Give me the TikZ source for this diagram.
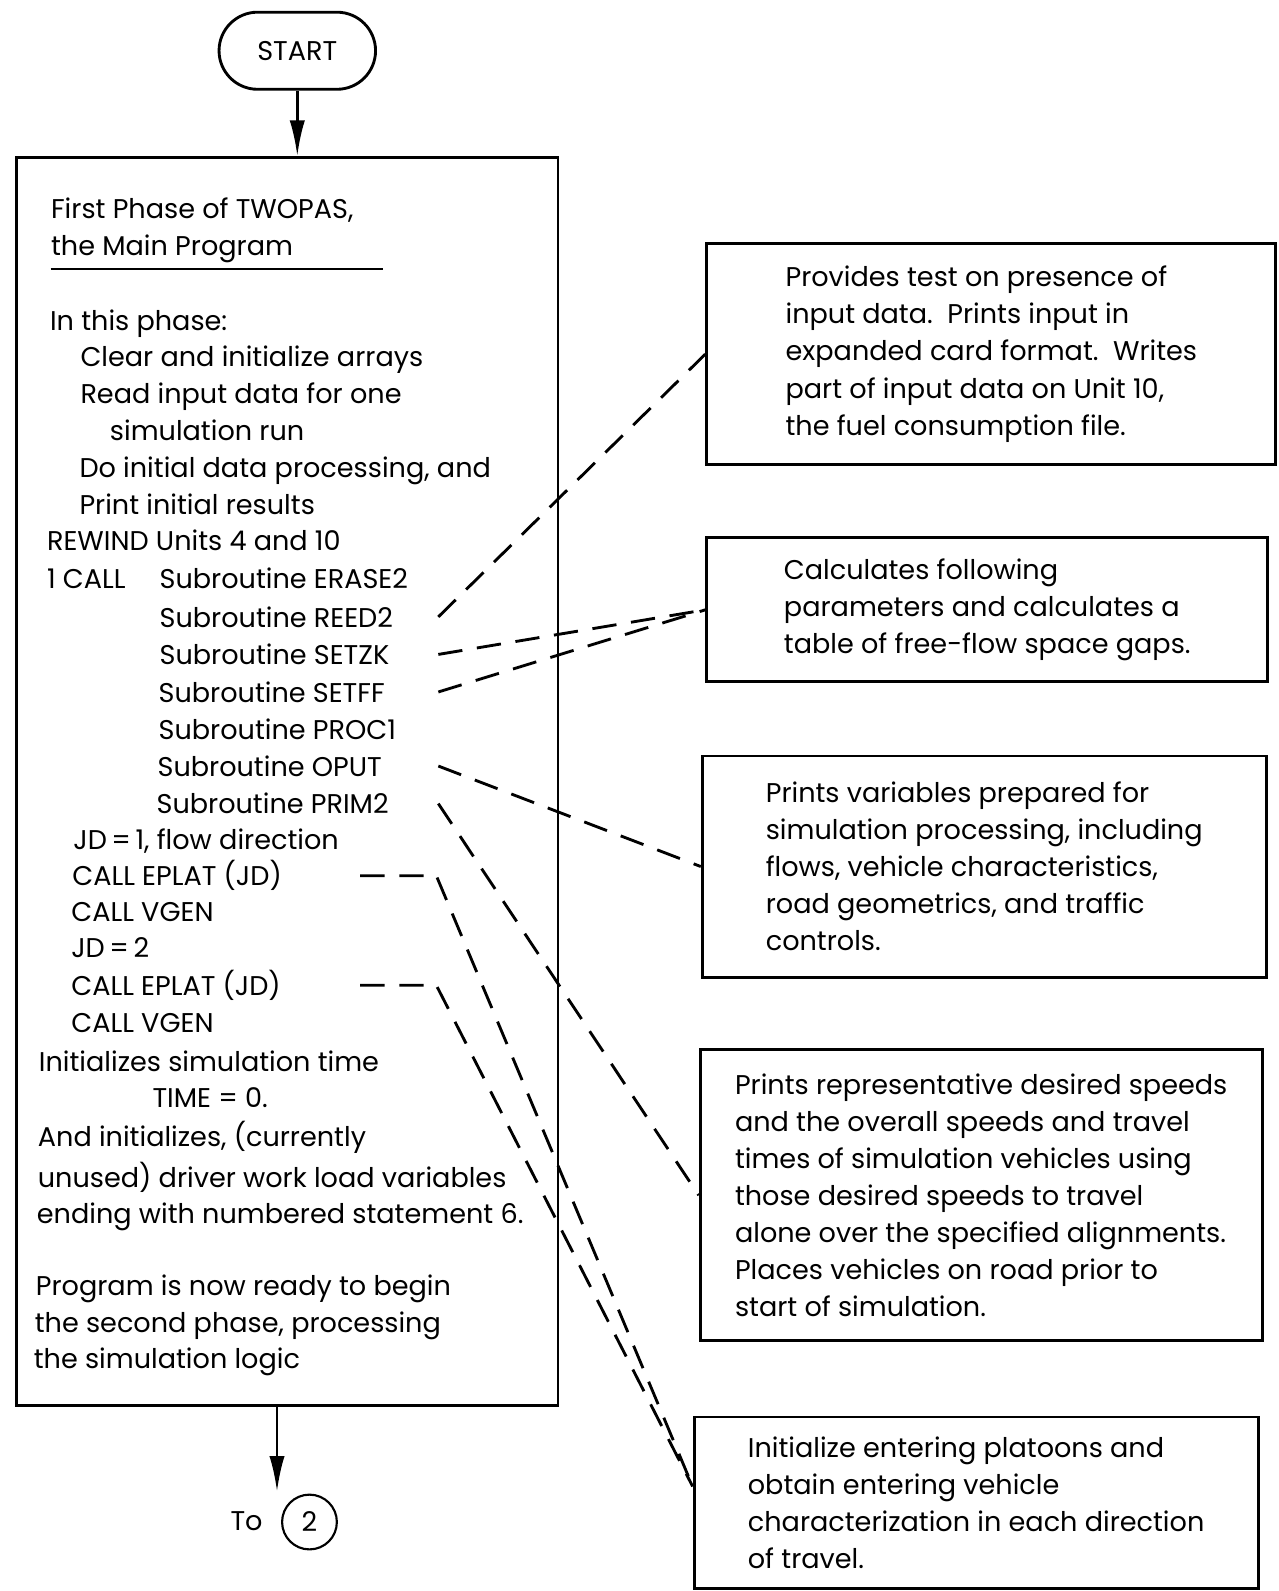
\documentclass[tikz,border=0pt]{standalone}
\usepackage{fontspec}
\setmainfont{Poppins}
\usetikzlibrary{shapes.misc, arrows.meta, positioning}

\newcommand{\fs}{\fontsize{15.2pt}{20.8pt}\selectfont}

\begin{document}
\begin{tikzpicture}[
    x=0.02cm, y=-0.02cm,
    terminal/.style={rounded rectangle, draw, line width=1.6pt, minimum width=3.32cm, minimum height=1.52cm, font=\fs},
    block/.style={rectangle, draw, line width=1.6pt},
    note/.style={rectangle, draw, line width=1.6pt, align=left, font=\fs},
    txt/.style={anchor=base west, inner sep=0pt, font=\fs},
    flow/.style={-{Latex[length=0.7cm, width=0.3cm]}, line width=1.6pt},
    link/.style={line width=1.6pt, dash pattern=on 0.48cm off 0.29cm}
]
\useasboundingbox (0,0) rectangle (1260,1568);

% Start
\node[terminal] (start) at (293,50) {START};

% Main program box
\node[block, minimum width=10.68cm, minimum height=24.6cm] (main) at (283,770) {};
\draw[flow] (start.south) -- (start.south |- main.north);

% Title of the phase
\node[txt] (title1) at (50,215) {First Phase of TWOPAS,};
\node[txt] (title2) at (50,252) {the Main Program};
\draw[line width=1.1pt] (50,265) -- (377,265);

% What the phase does
\node[txt] (phase) at (49,326) {In this phase:};
\node[txt] (clear) at (79,361) {Clear and initialize arrays};
\node[txt] (read1) at (79,398) {Read input data for one};
\node[txt] (read2) at (108,434) {simulation run};
\node[txt] (proc) at (78,471) {Do initial data processing, and};
\node[txt] (print) at (78,507) {Print initial results};
\node[txt] (rewind) at (46,543) {REWIND Units 4 and 10};

% Subroutine calls
\node[txt] (call1) at (46,580) {1 CALL};
\node[txt] (erase2) at (157,580) {Subroutine ERASE2};
\node[txt] (reed2) at (157,618) {Subroutine REED2};
\node[txt] (setzk) at (157,655) {Subroutine SETZK};
\node[txt] (setff) at (156,692) {Subroutine SETFF};
\node[txt] (proc1) at (156,729) {Subroutine PROC1};
\node[txt] (oput) at (155,765) {Subroutine OPUT};
\node[txt] (prim2) at (154,802) {Subroutine PRIM2};

% Both directions
\node[txt] (jd1) at (72,837) {JD\,=\,1, flow direction};
\node[txt] (eplat1) at (71,873) {CALL EPLAT (JD)};
\node[txt] (vgen1) at (70,908) {CALL VGEN};
\node[txt] (jd2) at (70,944) {JD\,=\,2};
\node[txt] (eplat2) at (70,981) {CALL EPLAT (JD)};
\node[txt] (vgen2) at (70,1018) {CALL VGEN};

% Time and work load
\node[txt] (init1) at (38,1056) {Initializes simulation time};
\node[txt] (time) at (150,1091) {TIME = 0.};
\node[txt] (init2) at (37,1130) {And initializes, (currently};
\node[txt] (init3) at (37,1170) {unused) driver work load variables};
\node[txt] (init4) at (36,1206) {ending with numbered statement 6.};

% Ready for second phase
\node[txt] (ready1) at (35,1277) {Program is now ready to begin};
\node[txt] (ready2) at (34,1313) {the second phase, processing};
\node[txt] (ready3) at (33,1349) {the simulation logic};

% Off-page connector
\coordinate (toend) at (273,1470);
\draw[flow] (main.south -| toend) -- (toend);
\node[font=\fs] (tolbl) at (243,1499) {To};
\node[circle, draw, line width=1.2pt, minimum size=1.08cm, font=\fs] (conn2) at (305,1500) {2};

% Comment boxes
\node[note, minimum width=11.22cm, minimum height=4.36cm] (boxA) at (977,349) {Provides test on presence of\\input data.\ \ Prints input in\\expanded card format.\ \ Writes\\part of input data on Unit 10,\\the fuel consumption file.};
\node[note, minimum width=11.06cm, minimum height=2.84cm] (boxB) at (973,601) {Calculates following\\parameters and calculates a\\table of free-flow space gaps.};
\node[note, minimum width=11.12cm, minimum height=4.36cm] (boxC) at (970,854) {Prints variables prepared for\\simulation processing, including\\flows, vehicle characteristics,\\road geometrics, and traffic\\controls.};
\node[note, minimum width=11.08cm, minimum height=5.74cm] (boxD) at (967,1178) {Prints representative desired speeds\\and the overall speeds and travel\\times of simulation vehicles using\\those desired speeds to travel\\alone over the specified alignments.\\Places vehicles on road prior to\\start of simulation.};
\node[note, minimum width=11.12cm, minimum height=3.38cm] (boxE) at (962,1481) {Initialize entering platoons and\\obtain entering vehicle\\characterization in each direction\\of travel.};

% Dashed links
\coordinate (tap) at (432,0);
\coordinate (bend) at (430,0);
\coordinate (dashx) at (355,0);
\coordinate (einto) at ([yshift=0.32cm]boxE.west);
\draw[link] (reed2.east -| tap) -- (boxA.west);
\draw[link] (setzk.east -| tap) -- (boxB.west);
\draw[link] (setff.east -| tap) -- (boxB.west);
\draw[link] (oput.east -| tap) -- (boxC.west);
\draw[link] (prim2.east -| tap) -- (boxD.west);
\draw[link] (eplat1.east -| dashx) -- (eplat1.east -| bend) -- (einto);
\draw[link] (eplat2.east -| dashx) -- (eplat2.east -| bend) -- (einto);

\end{tikzpicture}
\end{document}
